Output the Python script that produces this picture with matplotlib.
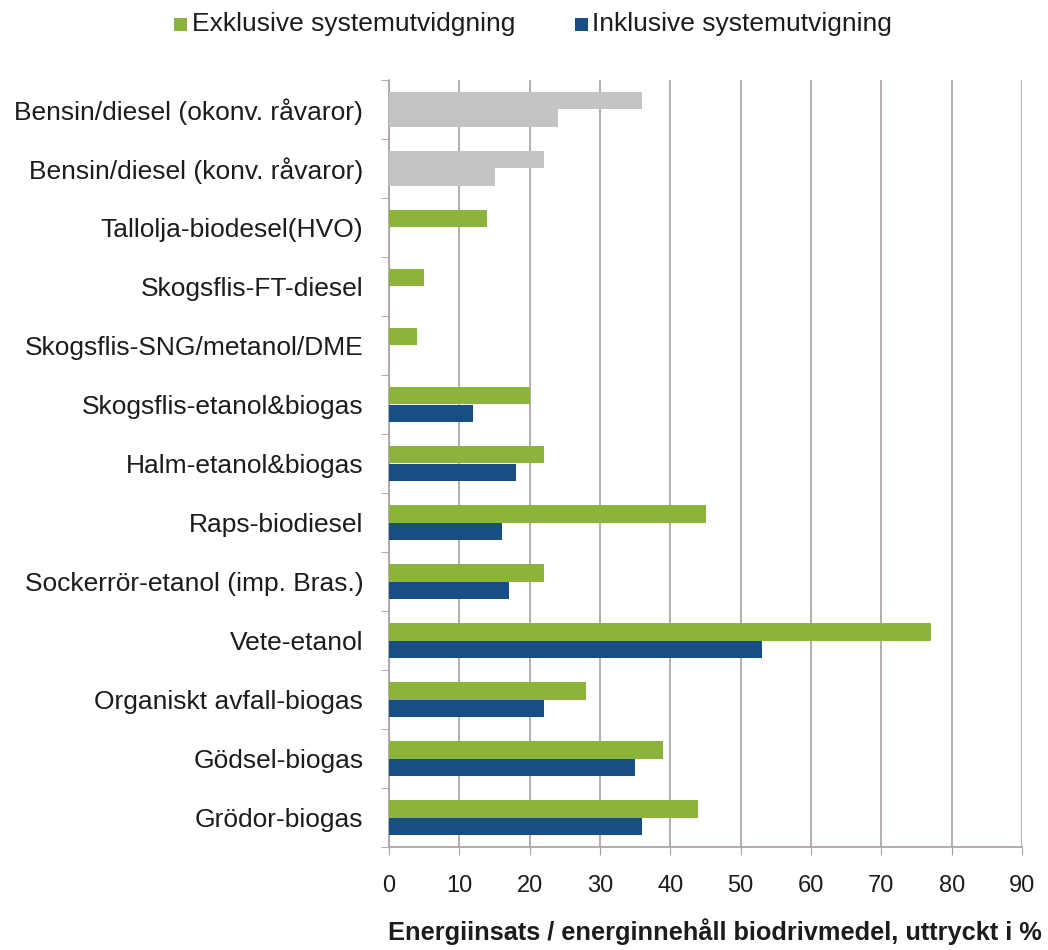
import matplotlib
matplotlib.use("Agg")
import matplotlib.pyplot as plt
from matplotlib.patches import Rectangle
import numpy as np

plt.rcParams['font.family'] = ['Liberation Sans', 'DejaVu Sans']

categories = [
    "Bensin/diesel (okonv. råvaror)",
    "Bensin/diesel (konv. råvaror)",
    "Tallolja-biodesel(HVO)",
    "Skogsflis-FT-diesel",
    "Skogsflis-SNG/metanol/DME",
    "Skogsflis-etanol&biogas",
    "Halm-etanol&biogas",
    "Raps-biodiesel",
    "Sockerrör-etanol (imp. Bras.)",
    "Vete-etanol",
    "Organiskt avfall-biogas",
    "Gödsel-biogas",
    "Grödor-biogas",
]
exklusive = [36, 22, 14, 5, 4, 20, 22, 45, 22, 77, 28, 39, 44]
inklusive = [24, 15, 0, 0, 0, 12, 18, 16, 17, 53, 22, 35, 36]
fossil = [True, True, False, False, False, False, False, False, False, False, False, False, False]

series_names = ["Exklusive systemutvidgning", "Inklusive systemutvigning"]
xticks = [0, 10, 20, 30, 40, 50, 60, 70, 80, 90]
xlabel = "Energiinsats / energinnehåll biodrivmedel, uttryckt i %"

GREEN = "#8cb43c"
BLUE = "#174e86"
GRAY = "#c4c4c4"
GRID = "#a99f9f"
TEXT = "#1c1c1c"

W, H = 1048, 950
fig = plt.figure(figsize=(W / 100, H / 100), dpi=100)
ax = fig.add_axes([389 / W, 103 / H, 633 / W, 767 / H])

y = np.arange(len(categories))
h = 0.3
c_ex = [GRAY if f else GREEN for f in fossil]
c_in = [GRAY if f else BLUE for f in fossil]
ax.barh(y - h / 2, exklusive, height=h, color=c_ex, zorder=3)
ax.barh(y + h / 2, inklusive, height=h, color=c_in, zorder=3)

ax.set_xlim(0, 90)
ax.set_ylim(len(categories) - 0.5, -0.5)
ax.set_xticks(xticks)
ax.set_xticklabels([str(t) for t in xticks], fontsize=17, color=TEXT)
ax.set_yticks(y)
ax.set_yticklabels(categories, fontsize=19, color=TEXT)
ax.set_yticks(np.arange(len(categories) + 1) - 0.5, minor=True)
ax.tick_params(axis='y', which='major', length=0, pad=18.5)
ax.tick_params(axis='y', which='minor', length=6, color=GRID, direction='out')
ax.tick_params(axis='x', which='major', length=6, color=GRID, pad=14)

ax.grid(axis='x', color=GRID, linewidth=1.2, zorder=0)
for s in ['top', 'right']:
    ax.spines[s].set_visible(False)
for s in ['left', 'bottom']:
    ax.spines[s].set_color(GRID)
    ax.spines[s].set_linewidth(1.2)

ax.set_xlabel(xlabel, fontsize=18.3, fontweight='bold', color=TEXT,
              ha='right', va='center')
ax.xaxis.set_label_coords((1042 - 389) / 633, (847 - 932) / 767)

# Legend: coloured squares with series names across the top
def px(xp, yp):
    return xp / W, 1 - yp / H

for color, name, sx, tx in [(GREEN, series_names[0], 174, 192),
                            (BLUE, series_names[1], 575, 592)]:
    x0, y0 = px(sx, 31)
    fig.add_artist(Rectangle((x0, y0), 13 / W, 13 / H, transform=fig.transFigure,
                             color=color, linewidth=0))
    tx0, ty0 = px(tx, 24)
    fig.text(tx0, ty0, name, fontsize=19, color=TEXT, ha='left', va='center')

fig.savefig("out.png", dpi=100)
